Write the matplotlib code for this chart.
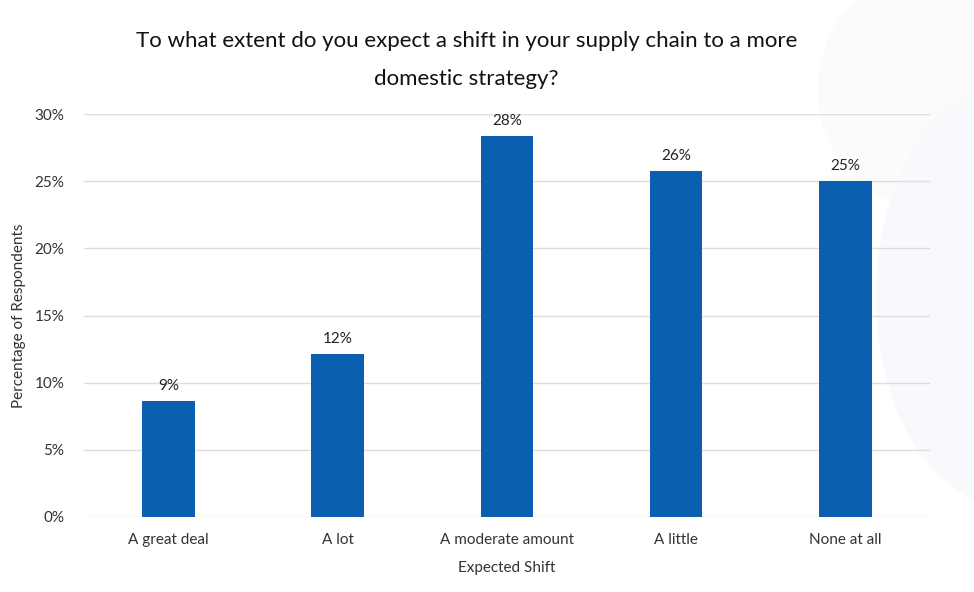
import matplotlib
matplotlib.use('Agg')
import matplotlib.pyplot as plt
from matplotlib.patches import Ellipse
import numpy as np

# datos del grafico
categorias = ['A great deal', 'A lot', 'A moderate amount', 'A little', 'None at all']
valores = [8.6, 12.1, 28.4, 25.8, 25.0]
etiquetas = ['9%', '12%', '28%', '26%', '25%']
ticks_y = [0, 5, 10, 15, 20, 25, 30]

plt.rcParams['font.family'] = ['Lato', 'DejaVu Sans']

fig = plt.figure(figsize=(9.74, 5.92), dpi=100)

# marca de agua muy tenue al fondo (derecha)
fig.patches.append(Ellipse((1.03, 0.50), 0.26, 0.70, transform=fig.transFigure,
                           color='#f7f9fc', zorder=-10))
fig.patches.append(Ellipse((0.97, 0.85), 0.26, 0.42, transform=fig.transFigure,
                           color='#fbfbfb', zorder=-11))

ax = fig.add_axes([0.086, 0.127, 0.869, 0.680])
ax.patch.set_alpha(0)

x = np.arange(len(categorias))
barras = ax.bar(x, valores, width=0.31, color='#0b5fb0', zorder=3)

for b, t in zip(barras, etiquetas):
    ax.text(b.get_x() + b.get_width() / 2, b.get_height() + 0.6, t,
            ha='center', va='bottom', fontsize=11, color='#222222')

ax.set_xlim(-0.5, len(categorias) - 0.5)
ax.set_ylim(0, 30)
ax.set_yticks(ticks_y)
ax.set_yticklabels([f'{v}%' for v in ticks_y])
ax.set_xticks(x)
ax.set_xticklabels(categorias)
ax.tick_params(axis='both', length=0, labelsize=11, colors='#333333')
ax.tick_params(axis='x', pad=12)
ax.tick_params(axis='y', pad=14)
ax.grid(axis='y', color='#dddddd', linewidth=1, zorder=0)
for s in ax.spines.values():
    s.set_visible(False)

ax.set_xlabel('Expected Shift', fontsize=11, color='#333333', labelpad=10)
ax.set_ylabel('Percentage of Respondents', fontsize=11, color='#333333', labelpad=6)

fig.text(0.479, 0.930, 'To what extent do you expect a shift in your supply chain to a more',
         ha='center', va='center', fontsize=16, color='#111111')
fig.text(0.479, 0.866, 'domestic strategy?', ha='center', va='center', fontsize=16, color='#111111')

fig.savefig('out.png', dpi=100)
